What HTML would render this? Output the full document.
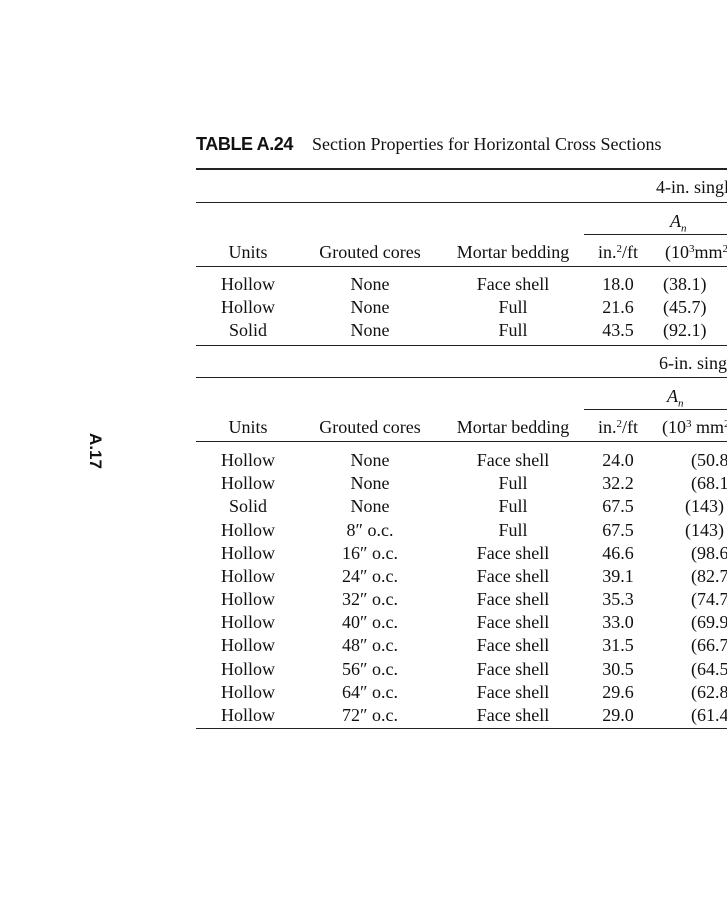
<!DOCTYPE html>
<html><head><meta charset="utf-8"><style>
html,body{margin:0;padding:0;background:#fff;}
body{width:727px;height:900px;position:relative;overflow:hidden;font-family:"Liberation Serif",serif;font-size:18px;color:#111;}
.t{position:absolute;line-height:20px;white-space:nowrap;}
.c{position:absolute;line-height:20px;white-space:nowrap;width:200px;text-align:center;}
.l{position:absolute;background:#222;height:1px;}
sup{font-size:11px;line-height:0;vertical-align:6px;}
</style></head><body>
<div class="t" style="left:196px;top:134px;font-family:'Liberation Sans',sans-serif;font-weight:bold;letter-spacing:-0.4px;font-size:18px;">TABLE A.24</div>
<div class="t" style="left:312px;top:134px;font-size:18px;">Section Properties for Horizontal Cross Sections</div>
<div class="t" style="left:77px;top:441px;font-family:'Liberation Sans',sans-serif;font-weight:bold;font-size:17px;transform:rotate(90deg);transform-origin:center;">A.17</div>

<div class="l" style="left:196px;top:168px;width:531px;height:2px;"></div>
<div class="t" style="left:656px;top:177px;">4-in. single</div>
<div class="l" style="left:196px;top:202px;width:531px;"></div>
<div class="t" style="left:670px;top:211px;font-style:italic;">A<sub style="font-size:11px;">n</sub></div>
<div class="l" style="left:584px;top:234px;width:143px;"></div>
<div class="c" style="left:148px;top:242px;">Units</div>
<div class="c" style="left:270px;top:242px;">Grouted cores</div>
<div class="c" style="left:413px;top:242px;">Mortar bedding</div>
<div class="c" style="left:518px;top:242px;">in.<sup>2</sup>/ft</div>
<div class="t" style="left:665px;top:242px;">(10<sup>3</sup>mm<sup>2</sup>)</div>
<div class="l" style="left:196px;top:266px;width:531px;"></div>

<div class="c" style="left:148px;top:274px;">Hollow</div><div class="c" style="left:270px;top:274px;">None</div><div class="c" style="left:413px;top:274px;">Face shell</div><div class="c" style="left:518px;top:274px;">18.0</div><div class="t" style="left:663px;top:274px;">(38.1)</div>
<div class="c" style="left:148px;top:297px;">Hollow</div><div class="c" style="left:270px;top:297px;">None</div><div class="c" style="left:413px;top:297px;">Full</div><div class="c" style="left:518px;top:297px;">21.6</div><div class="t" style="left:663px;top:297px;">(45.7)</div>
<div class="c" style="left:148px;top:320px;">Solid</div><div class="c" style="left:270px;top:320px;">None</div><div class="c" style="left:413px;top:320px;">Full</div><div class="c" style="left:518px;top:320px;">43.5</div><div class="t" style="left:663px;top:320px;">(92.1)</div>
<div class="l" style="left:196px;top:345px;width:531px;"></div>

<div class="t" style="left:659px;top:353px;">6-in. single</div>
<div class="l" style="left:196px;top:377px;width:531px;"></div>
<div class="t" style="left:667px;top:386px;font-style:italic;">A<sub style="font-size:11px;">n</sub></div>
<div class="l" style="left:584px;top:409px;width:143px;"></div>
<div class="c" style="left:148px;top:417px;">Units</div>
<div class="c" style="left:270px;top:417px;">Grouted cores</div>
<div class="c" style="left:413px;top:417px;">Mortar bedding</div>
<div class="c" style="left:518px;top:417px;">in.<sup>2</sup>/ft</div>
<div class="t" style="left:662px;top:417px;">(10<sup>3</sup> mm<sup>2</sup>)</div>
<div class="l" style="left:196px;top:441px;width:531px;"></div>

<div class="c" style="left:148px;top:450px;">Hollow</div><div class="c" style="left:270px;top:450px;">None</div><div class="c" style="left:413px;top:450px;">Face shell</div><div class="c" style="left:518px;top:450px;">24.0</div><div class="t" style="left:691px;top:450px;">(50.8)</div>
<div class="c" style="left:148px;top:473px;">Hollow</div><div class="c" style="left:270px;top:473px;">None</div><div class="c" style="left:413px;top:473px;">Full</div><div class="c" style="left:518px;top:473px;">32.2</div><div class="t" style="left:691px;top:473px;">(68.1)</div>
<div class="c" style="left:148px;top:496px;">Solid</div><div class="c" style="left:270px;top:496px;">None</div><div class="c" style="left:413px;top:496px;">Full</div><div class="c" style="left:518px;top:496px;">67.5</div><div class="t" style="left:685px;top:496px;">(143)</div>
<div class="c" style="left:148px;top:520px;">Hollow</div><div class="c" style="left:270px;top:520px;">8″ o.c.</div><div class="c" style="left:413px;top:520px;">Full</div><div class="c" style="left:518px;top:520px;">67.5</div><div class="t" style="left:685px;top:520px;">(143)</div>
<div class="c" style="left:148px;top:543px;">Hollow</div><div class="c" style="left:270px;top:543px;">16″ o.c.</div><div class="c" style="left:413px;top:543px;">Face shell</div><div class="c" style="left:518px;top:543px;">46.6</div><div class="t" style="left:691px;top:543px;">(98.6)</div>
<div class="c" style="left:148px;top:566px;">Hollow</div><div class="c" style="left:270px;top:566px;">24″ o.c.</div><div class="c" style="left:413px;top:566px;">Face shell</div><div class="c" style="left:518px;top:566px;">39.1</div><div class="t" style="left:691px;top:566px;">(82.7)</div>
<div class="c" style="left:148px;top:589px;">Hollow</div><div class="c" style="left:270px;top:589px;">32″ o.c.</div><div class="c" style="left:413px;top:589px;">Face shell</div><div class="c" style="left:518px;top:589px;">35.3</div><div class="t" style="left:691px;top:589px;">(74.7)</div>
<div class="c" style="left:148px;top:612px;">Hollow</div><div class="c" style="left:270px;top:612px;">40″ o.c.</div><div class="c" style="left:413px;top:612px;">Face shell</div><div class="c" style="left:518px;top:612px;">33.0</div><div class="t" style="left:691px;top:612px;">(69.9)</div>
<div class="c" style="left:148px;top:635px;">Hollow</div><div class="c" style="left:270px;top:635px;">48″ o.c.</div><div class="c" style="left:413px;top:635px;">Face shell</div><div class="c" style="left:518px;top:635px;">31.5</div><div class="t" style="left:691px;top:635px;">(66.7)</div>
<div class="c" style="left:148px;top:659px;">Hollow</div><div class="c" style="left:270px;top:659px;">56″ o.c.</div><div class="c" style="left:413px;top:659px;">Face shell</div><div class="c" style="left:518px;top:659px;">30.5</div><div class="t" style="left:691px;top:659px;">(64.5)</div>
<div class="c" style="left:148px;top:682px;">Hollow</div><div class="c" style="left:270px;top:682px;">64″ o.c.</div><div class="c" style="left:413px;top:682px;">Face shell</div><div class="c" style="left:518px;top:682px;">29.6</div><div class="t" style="left:691px;top:682px;">(62.8)</div>
<div class="c" style="left:148px;top:705px;">Hollow</div><div class="c" style="left:270px;top:705px;">72″ o.c.</div><div class="c" style="left:413px;top:705px;">Face shell</div><div class="c" style="left:518px;top:705px;">29.0</div><div class="t" style="left:691px;top:705px;">(61.4)</div>
<div class="l" style="left:196px;top:728px;width:531px;"></div>
</body></html>
